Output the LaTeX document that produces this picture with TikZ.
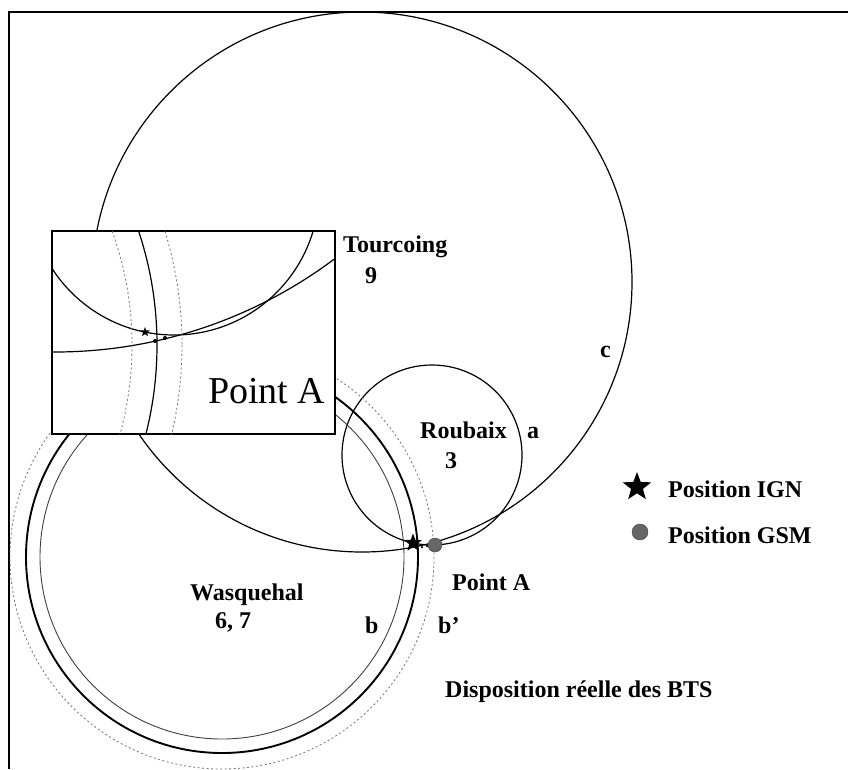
\documentclass[tikz,border=0pt]{standalone}
\usepackage{fontspec}
\setmainfont{Liberation Serif}
\usetikzlibrary{shapes.geometric}
\begin{document}
\begin{tikzpicture}[x=1pt,y=-1pt,
  lbl/.style={font=\fontsize{24}{26}\selectfont\bfseries, inner sep=0pt, anchor=base west},
  bigtxt/.style={font=\fontsize{38}{40}\selectfont, inner sep=0pt, anchor=base west},
  circline/.style={line width=1.2pt},
  thickline/.style={line width=1.9pt},
  thinline/.style={line width=0.9pt, black!75},
  dotline/.style={line width=0.8pt, black!55, dash pattern=on 2pt off 2.5pt},
  ignstar/.style={star, star points=5, star point ratio=2.4, fill=black, draw=none, inner sep=0pt},
  gsmdot/.style={circle, fill=black!60, draw=black!75, inner sep=0pt}]
\useasboundingbox (0,0) rectangle (848,769);
% frame
\draw[line width=1.3pt] (9,769) -- (9,12) -- (848,12);
% circle c (Tourcoing)
\draw[circline] (362,282) circle[radius=270];
% circle a (Roubaix)
\draw[circline] (432,455) circle[radius=90];
% Wasquehal circles
\draw[thinline] (222,557) circle[radius=182];
\draw[thickline] (222,557) circle[radius=196];
\draw[dotline] (222,557) circle[radius=212];
% inset box
\draw[line width=1.2pt, fill=white] (52,231) rectangle (335,434);
\begin{scope}
  \clip (52,231) rectangle (335,434);
  \draw[circline] (174,190) circle[radius=145];
  \draw[circline] (54.5,-115.5) circle[radius=467.5];
  \draw[circline] (-203,345) circle[radius=360];
  \draw[dotline] (-203,345) circle[radius=335];
  \draw[dotline] (-203,345) circle[radius=385];
\end{scope}
\node[ignstar, minimum size=10pt] (istar) at (145,332) {};
\node[circle, fill=black, inner sep=0pt, minimum size=4pt] (idot1) at (155,341) {};
\node[circle, fill=black, inner sep=0pt, minimum size=4pt] (idot2) at (165,338) {};
\node[bigtxt] (pA1) at (208,403) {Point A};
% point A markers
\node[gsmdot, minimum size=14pt] (gsmA) at (435,545) {};
\node[ignstar, minimum size=19pt] (ignA) at (413,543) {};
\node[circle, fill=black, inner sep=0pt, minimum size=2.5pt] (pdot1) at (422,547) {};
\node[circle, fill=black, inner sep=0pt, minimum size=2.5pt] (pdot2) at (427,546) {};
% labels
\node[lbl] (tour) at (343,252) {Tourcoing};
\node[lbl] (nine) at (365,283) {9};
\node[lbl] (lc) at (600,357) {c};
\node[lbl] (roub) at (420,438) {Roubaix};
\node[lbl] (la) at (527,438) {a};
\node[lbl] (three) at (445,468) {3};
\node[lbl] (pA2) at (452,590) {Point A};
\node[lbl] (wasq) at (190,600) {Wasquehal};
\node[lbl] (sixseven) at (215,628) {6, 7};
\node[lbl] (lb) at (365,633) {b};
\node[lbl] (lbp) at (438,633) {b’};
\node[lbl] (disp) at (445,697) {Disposition réelle des BTS};
% legend
\node[ignstar, minimum size=30pt] (legstar) at (637,487) {};
\node[lbl] (legign) at (668,497) {Position IGN};
\node[gsmdot, minimum size=16pt] (legdot) at (640,532) {};
\node[lbl] (leggsm) at (668,543) {Position GSM};
\end{tikzpicture}
\end{document}
